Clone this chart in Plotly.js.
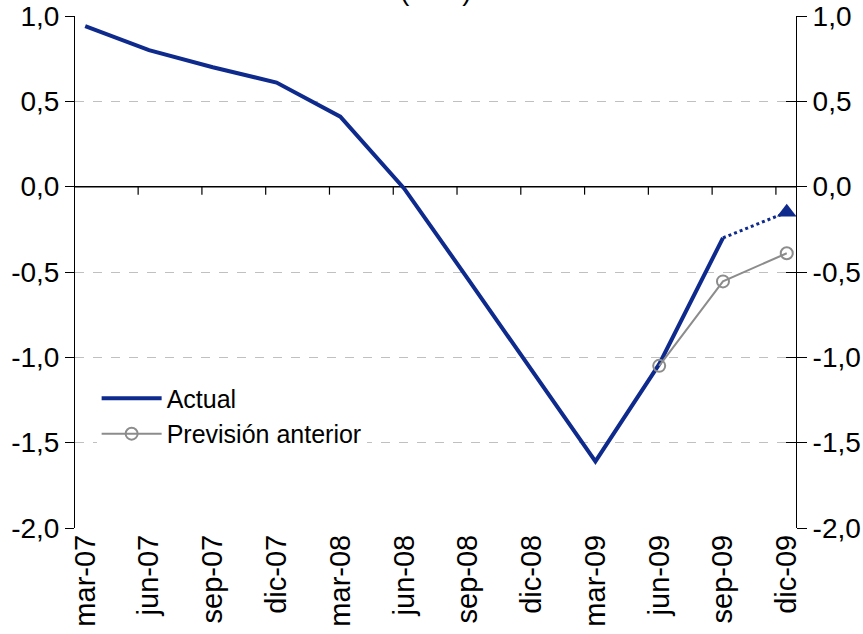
<!DOCTYPE html>
<html>
<head>
<meta charset="utf-8">
<script src="https://cdn.plot.ly/plotly-3.0.1.min.js"></script>
<style>
  html, body { margin: 0; padding: 0; background: #ffffff; }
  #chart { width: 863px; height: 634px; }
</style>
</head>
<body>
<div id="chart"></div>
<script>
// Quarterly labels (Spanish month abbreviations)
const quarters = ['mar-07', 'jun-07', 'sep-07', 'dic-07', 'mar-08', 'jun-08',
                  'sep-08', 'dic-08', 'mar-09', 'jun-09', 'sep-09', 'dic-09'];

// Current series; the last quarter is a projection
const actualValues = [0.94, 0.80, 0.70, 0.61, 0.41, -0.01,
                      -0.54, -1.07, -1.61, -1.04, -0.30, -0.15];
const lastObservedIndex = 10;

// Previous forecast (only the last three quarters)
const previousQuarters = ['jun-09', 'sep-09', 'dic-09'];
const previousValues = [-1.05, -0.555, -0.39];

// Value axis ticks
const yTickValues = [-2.0, -1.5, -1.0, -0.5, 0.0, 0.5, 1.0];
const yTickLabels = ['-2,0', '-1,5', '-1,0', '-0,5', '0,0', '0,5', '1,0'];

const titleText = '(tasa)';

const legendNames = ['Actual', 'Previsión anterior'];

const navy = '#0e2a8c';
const grey = '#8c8c8c';
const font = 'Liberation Sans, Arial, sans-serif';
const fontSize = 28;

const idx = quarters.map((_, i) => i);
const pos = q => quarters.indexOf(q);

// tick marks on the zero line sit a little before each quarter
const zeroTicks = idx.slice(1).map(i => i - 0.17);

const xRange = [-0.16, 11.145];
const yRange = [-2, 1];

const traces = [
  {
    x: idx.slice(0, lastObservedIndex + 1),
    y: actualValues.slice(0, lastObservedIndex + 1),
    name: legendNames[0],
    type: 'scatter', mode: 'lines',
    line: { color: navy, width: 4 },
    xaxis: 'x', yaxis: 'y'
  },
  {
    x: idx.slice(lastObservedIndex),
    y: actualValues.slice(lastObservedIndex),
    type: 'scatter', mode: 'lines',
    showlegend: false,
    line: { color: navy, width: 3, dash: 'dot' },
    xaxis: 'x', yaxis: 'y'
  },
  {
    x: [idx[idx.length - 1]],
    y: [actualValues[actualValues.length - 1]],
    type: 'scatter', mode: 'markers',
    showlegend: false,
    marker: { symbol: 'triangle-up', size: 17, color: navy, opacity: 1, line: { width: 0 } },
    xaxis: 'x', yaxis: 'y'
  },
  {
    x: previousQuarters.map(pos),
    y: previousValues,
    name: legendNames[1],
    type: 'scatter', mode: 'lines+markers',
    line: { color: grey, width: 2 },
    marker: { symbol: 'circle-open', size: 12, color: grey, line: { width: 2, color: grey } },
    xaxis: 'x', yaxis: 'y'
  },
  // empty traces so that the right-hand axes get drawn
  {
    x: xRange, y: [null, null], type: 'scatter', mode: 'lines',
    showlegend: false, hoverinfo: 'skip', xaxis: 'x', yaxis: 'y2'
  },
  {
    x: xRange, y: [null, null], type: 'scatter', mode: 'lines',
    showlegend: false, hoverinfo: 'skip', xaxis: 'x', yaxis: 'y3'
  }
];

// horizontal axis line crossing at zero, plus its short tick marks
const zeroLineShapes = [
  {
    type: 'line', layer: 'between', xref: 'x', yref: 'y',
    x0: xRange[0], x1: xRange[1], y0: 0, y1: 0,
    line: { color: '#000000', width: 1.5 }
  }
].concat(zeroTicks.map(t => ({
  type: 'line', layer: 'between', xref: 'x', yref: 'y',
  ysizemode: 'pixel', yanchor: 0,
  x0: t, x1: t, y0: 0, y1: -8,
  line: { color: '#000000', width: 1.2 }
})));

const layout = {
  width: 863, height: 634,
  margin: { l: 75, r: 67, t: 16, b: 106 },
  paper_bgcolor: '#ffffff', plot_bgcolor: 'rgba(0,0,0,0)',
  font: { family: font, size: fontSize, color: '#000000' },
  showlegend: true,
  legend: {
    x: 0.03, y: 0.298, xanchor: 'left', yanchor: 'top',
    bgcolor: '#ffffff', borderwidth: 0,
    font: { family: font, size: 25, color: '#000000' },
    tracegroupgap: 0, itemwidth: 60
  },
  xaxis: {
    range: xRange, fixedrange: true,
    tickmode: 'array', tickvals: idx, ticktext: quarters,
    tickangle: -90, ticks: '', showline: false, showgrid: false, zeroline: false,
    tickfont: { family: font, size: 29 }
  },
  yaxis: {
    range: yRange, tickmode: 'array', tickvals: yTickValues, ticktext: yTickLabels,
    ticks: 'outside', ticklen: 9, tickcolor: '#000000',
    showline: true, linecolor: '#000000', linewidth: 1,
    showgrid: true, gridcolor: '#c0c0c0', griddash: 'dash', gridwidth: 1,
    zeroline: false, tickfont: { family: font, size: fontSize }
  },
  yaxis2: {
    overlaying: 'y', side: 'right', anchor: 'x',
    range: yRange, tickmode: 'array', tickvals: yTickValues, ticktext: yTickLabels,
    ticks: 'outside', ticklen: 10, tickcolor: '#000000',
    showline: true, linecolor: '#000000', linewidth: 1,
    showgrid: false, zeroline: false, tickfont: { family: font, size: fontSize }
  },
  yaxis3: {
    overlaying: 'y', side: 'right', anchor: 'x',
    range: yRange, tickmode: 'array', tickvals: yTickValues,
    ticks: 'inside', ticklen: 10, tickcolor: '#000000',
    showticklabels: false, showline: false, showgrid: false, zeroline: false
  },
  shapes: zeroLineShapes,
  annotations: [{
    text: titleText, xref: 'paper', yref: 'paper', x: 0.5, y: 1,
    xanchor: 'center', yanchor: 'bottom', yshift: 8, showarrow: false,
    font: { family: font, size: fontSize, color: '#000000' }
  }]
};

Plotly.newPlot('chart', traces, layout, { staticPlot: true, displayModeBar: false });
</script>
</body>
</html>
